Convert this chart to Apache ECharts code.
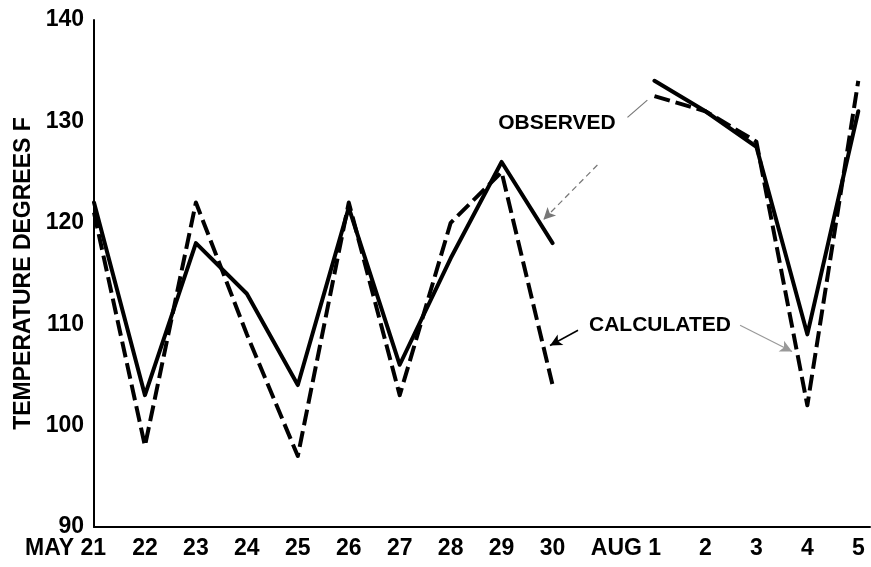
<!DOCTYPE html>
<html>
<head>
<meta charset="utf-8">
<script src="https://cdn.jsdelivr.net/npm/echarts@6/dist/echarts.min.js"></script>
<style>
html,body{margin:0;padding:0;background:#fff;}
#c{width:871px;height:567px;}
</style>
</head>
<body>
<div id="c"></div>
<script>
// Tick labels for the day axis (blank slot marks the gap between May 30 and Aug 1)
const dayLabels = ['MAY 21','22','23','24','25','26','27','28','29','30','','AUG 1','2','3','4','5'];
// Temperatures, degrees F
const observed   = [122, 103, 118, 113, 104, 121.5, 106, 116.5, 126, 118, null, 134, 131, 127.5, 109, 131];
const calculated = [121,  98, 122, 109,  97, 122,   103, 120,   125, 104, null, 132.5, 131, 128, 102, 134];
const yTicks = [90, 100, 110, 120, 130, 140];
const yAxisTitle = 'TEMPERATURE DEGREES F';
const seriesNames = ['OBSERVED', 'CALCULATED'];

const FONT = '"Liberation Sans", Arial, sans-serif';
const chart = echarts.init(document.getElementById('c'), null, {renderer: 'canvas'});

const toPairs = arr => arr.map((v, i) => [i, v]);

chart.setOption({
  animation: false,
  backgroundColor: '#ffffff',
  grid: {left: 94, right: 1, top: 20, bottom: 40, containLabel: false},
  xAxis: {
    type: 'value', min: 0, max: 15.23, interval: 1,
    axisLine: {show: true, lineStyle: {color: '#000', width: 2}},
    axisTick: {show: false},
    splitLine: {show: false},
    axisLabel: {
      margin: 10, showMaxLabel: false,
      fontFamily: FONT, fontWeight: 'bold', fontSize: 23, color: '#000',
      formatter: function (v) {
        if (Math.abs(v - Math.round(v)) > 1e-6) return '';
        const s = dayLabels[Math.round(v)] || '';
        if (s.indexOf(' ') >= 0) return '{p|' + s + '}';
        return s;
      },
      rich: {p: {fontFamily: FONT, fontWeight: 'bold', fontSize: 23, color: '#000', padding: [0, 57, 0, 0]}}
    }
  },
  yAxis: {
    type: 'value', min: yTicks[0], max: yTicks[yTicks.length - 1], interval: 10,
    name: yAxisTitle, nameLocation: 'middle', nameGap: 59, nameRotate: 90,
    nameTextStyle: {fontFamily: FONT, fontWeight: 'bold', fontSize: 23, color: '#000'},
    axisLine: {show: true, lineStyle: {color: '#000', width: 2}},
    axisTick: {show: false},
    splitLine: {show: false},
    axisLabel: {margin: 10, fontFamily: FONT, fontWeight: 'bold', fontSize: 23, color: '#000'}
  },
  series: [
    {
      name: seriesNames[0], type: 'line', data: toPairs(observed),
      showSymbol: false, symbol: 'none', connectNulls: false,
      lineStyle: {color: '#000', width: 4, type: 'solid', cap: 'round', join: 'round'},
      markLine: {
        silent: true, animation: false, symbol: ['none', 'arrow'], symbolSize: [9, 12],
        label: {show: false},
        data: [
          [{coord: [9.88, 125.7], lineStyle: {color: '#777', width: 1.2, type: [6, 4]}}, {coord: [8.82, 120.3]}],
          [{coord: [10.47, 130.4], symbol: 'none', lineStyle: {color: '#777', width: 1.2, type: 'solid'}}, {coord: [10.86, 132.1], symbol: 'none'}]
        ]
      }
    },
    {
      name: seriesNames[1], type: 'line', data: toPairs(calculated),
      showSymbol: false, symbol: 'none', connectNulls: false,
      lineStyle: {color: '#000', width: 4, type: [16, 6], cap: 'butt', join: 'round'},
      markLine: {
        silent: true, animation: false, symbol: ['none', 'arrow'], symbolSize: [9, 12],
        label: {show: false},
        data: [
          [{coord: [9.5, 109.4], lineStyle: {color: '#000', width: 1.5, type: 'solid'}}, {coord: [8.95, 107.9]}],
          [{coord: [12.68, 109.9], lineStyle: {color: '#999', width: 1.2, type: 'solid'}}, {coord: [13.7, 107.3]}]
        ]
      }
    }
  ],
  graphic: [
    {type: 'text', silent: true, style: {x: 557, y: 123, text: seriesNames[0], align: 'center', verticalAlign: 'middle',
      font: 'bold 21px ' + FONT, fill: '#000'}},
    {type: 'text', silent: true, style: {x: 660, y: 325, text: seriesNames[1], align: 'center', verticalAlign: 'middle',
      font: 'bold 21px ' + FONT, fill: '#000'}}
  ]
});
</script>
</body>
</html>
